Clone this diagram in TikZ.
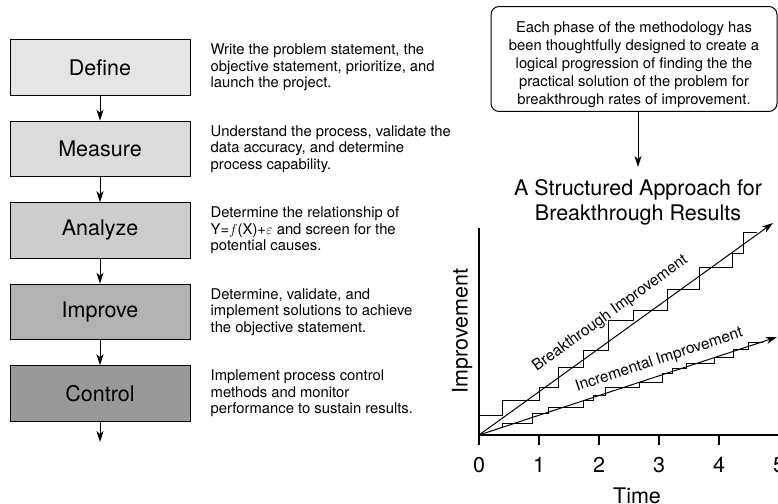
\documentclass[tikz,border=0pt]{standalone}
\usepackage{fontspec}
\setmainfont{TeX Gyre Heros}
\usetikzlibrary{positioning,arrows.meta}

\begin{document}
\begin{tikzpicture}[x=1pt,y=-1pt,>={Stealth[length=11pt,width=7pt,inset=3pt]}]
				\tikzset{phase/.style={draw,line width=1pt,minimum width=180pt,minimum height=55.5pt,font=\fontsize{21.5}{24}\selectfont}}
				\tikzset{phasetext/.style={align=left,inner sep=0pt,font=\fontsize{14.8}{16.5}\selectfont}}
				\tikzset{flow/.style={->,line width=1pt}}
				\tikzset{big/.style={inner sep=0pt,font=\fontsize{21.5}{25}\selectfont}}
				\tikzset{slopetext/.style={sloped,inner sep=0pt,font=\fontsize{15.5}{17}\selectfont}}
				\useasboundingbox (0,0) rectangle (778,503);
				\node[phase,fill=black!10] (define) at (100,67.5) {Define};
				\node[phase,fill=black!14,below=25pt of define] (measure) {Measure};
				\node[phase,fill=black!20,below=25pt of measure] (analyze) {Analyze};
				\node[phase,fill=black!30,below=25pt of analyze] (improve) {Improve};
				\node[phase,fill=black!40,below=25pt of improve] (control) {Control};
				\coordinate (exit) at (100,442);
				\draw[flow] (define) -- (measure);
				\draw[flow] (measure) -- (analyze);
				\draw[flow] (analyze) -- (improve);
				\draw[flow] (improve) -- (control);
				\draw[flow] (control) -- (exit);
				\node[phasetext,right=20pt of define] (definetext) {Write the problem statement, the\\objective statement, prioritize, and\\launch the project.};
				\node[phasetext,right=20pt of measure] (measuretext) {Understand the process, validate the\\data accuracy, and determine\\process capability.};
				\node[phasetext,right=20pt of analyze] (analyzetext) {Determine the relationship of\\Y=$f$(X)+$\varepsilon$ and screen for the\\potential causes.};
				\node[phasetext,right=20pt of improve] (improvetext) {Determine, validate, and\\implement solutions to achieve\\the objective statement.};
				\node[phasetext,right=20pt of control] (controltext) {Implement process control\\methods and monitor\\performance to sustain results.};
				\node[draw,line width=1pt,rounded corners=8pt,minimum width=286pt,minimum height=102pt,align=center,font=\fontsize{14.8}{18}\selectfont] (note) at (634,59) {\rule{0pt}{23pt}Each phase of the methodology has\\been thoughtfully designed to create a\\logical progression of finding the the\\practical solution of the problem for\\breakthrough rates of improvement.};
				\node[big,align=center,anchor=north] (title) at (638,179) {A Structured Approach for\\Breakthrough Results};
				\draw[flow,shorten >=12pt] (note.south -| title.north) -- (title.north);
				\coordinate (o) at (479,435);
				\coordinate (bt) at (773,223);
				\coordinate (inc) at (777,337);
				\draw[line width=1.2pt] (479,228) -- (479,445);
				\draw[line width=1.2pt] (o) -- (790,435);
				\draw[line width=1.2pt] (539,435) -- (539,445) (599,435) -- (599,445) (659,435) -- (659,445) (719,435) -- (719,445) (779,435) -- (779,445);
				\node[big] (t0) at (479,465) {0};
				\node[big] (t1) at (539,465) {1};
				\node[big] (t2) at (599,465) {2};
				\node[big] (t3) at (659,465) {3};
				\node[big] (t4) at (719,465) {4};
				\node[big] (t5) at (779,465) {5};
				\node[big] (xlabel) at (637,496) {Time};
				\node[big,rotate=90] (ylabel) at (462,331) {Improvement};
				\draw[line width=1pt] (479,435) |- (502,415) |- (539,400) |- (558,387) |- (583,367) |- (608,350) |- (633,320) |- (667,310) |- (699,289) |- (732,267) |- (743,253) |- (757,232);
				\draw[line width=1pt] (502,427) |- (532,423) |- (548,413) |- (583,407) |- (593,400) |- (605,395) |- (639,387) |- (662,382) |- (672,373) |- (686,368) |- (714,363) |- (733,357) |- (748,349) |- (763,342);
				\draw[flow] (o) -- (bt) node[slopetext,pos=0.49,above=14pt] (btlabel) {Breakthrough Improvement};
				\draw[flow] (o) -- (inc) node[slopetext,pos=0.62,above=7pt] (inclabel) {Incremental Improvement};
			\end{tikzpicture}
\end{document}
